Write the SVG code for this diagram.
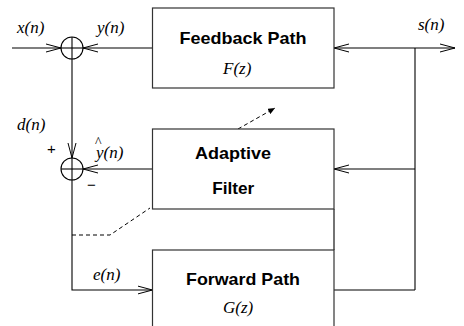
<svg xmlns="http://www.w3.org/2000/svg" width="464" height="326" viewBox="0 0 464 326">
  <style>
    .box { fill: #fff; stroke: #333; stroke-width: 1.2; }
    .ln { fill: none; stroke: #000; stroke-width: 1.1; }
    .dash { fill: none; stroke: #000; stroke-width: 1; stroke-dasharray: 4 3; }
    .title { font-family: "Liberation Sans", Arial, sans-serif; font-weight: bold; font-size: 16.5px; fill: #000; }
    .math { font-family: "Liberation Serif", "Times New Roman", serif; font-style: italic; font-size: 17px; fill: #000; }
    .sign { font-family: "Liberation Sans", Arial, sans-serif; font-size: 15px; fill: #000; }
  </style>
  <defs>
    <marker id="open" markerUnits="userSpaceOnUse" markerWidth="16" markerHeight="10" viewBox="0 0 16 10" refX="15" refY="5" orient="auto">
      <path d="M0,1 L15,5 L0,9" fill="none" stroke="#000" stroke-width="1"/>
    </marker>
    <marker id="dart" markerUnits="userSpaceOnUse" markerWidth="8" markerHeight="6" viewBox="0 0 8 6" refX="7" refY="3" orient="auto">
      <path d="M0,0 L7,3 L0,6 Z" fill="#000"/>
    </marker>
  </defs>

  <!-- signal connectors -->
  <g id="connectors">
    <line class="ln" x1="12" y1="48" x2="61" y2="48" marker-end="url(#open)"/>
    <line class="ln" x1="152.5" y1="48" x2="83" y2="48" marker-end="url(#open)"/>
    <line class="ln" x1="415" y1="48" x2="334" y2="48" marker-end="url(#open)"/>
    <line class="ln" x1="415" y1="48" x2="455" y2="48" marker-end="url(#open)"/>
    <line class="ln" x1="415" y1="48" x2="415" y2="290"/>
    <line class="ln" x1="415" y1="169" x2="334" y2="169" marker-end="url(#open)"/>
    <line class="ln" x1="152.5" y1="169" x2="83" y2="169" marker-end="url(#open)"/>
    <line class="ln" x1="72" y1="59" x2="72" y2="158" marker-end="url(#open)"/>
    <polyline class="ln" points="72,180 72,290 152.5,290" marker-end="url(#open)"/>
    <line class="ln" x1="334" y1="290" x2="415" y2="290"/>
    <line class="ln" x1="334" y1="209" x2="334" y2="250"/>
    <polyline class="dash" points="72,235 110,235 150,208"/>
    <line class="dash" x1="238" y1="129" x2="275" y2="108" marker-end="url(#dart)"/>
  </g>

  <!-- summing junctions -->
  <g id="sum1">
    <circle cx="72" cy="48" r="11" fill="none" stroke="#000" stroke-width="1.1"/>
    <line class="ln" x1="61" y1="48" x2="83" y2="48"/>
    <line class="ln" x1="72" y1="37" x2="72" y2="59"/>
  </g>
  <g id="sum2">
    <circle cx="72" cy="169" r="11" fill="none" stroke="#000" stroke-width="1.1"/>
    <line class="ln" x1="61" y1="169" x2="83" y2="169"/>
    <line class="ln" x1="72" y1="158" x2="72" y2="180"/>
    <text class="sign" x="47" y="154">+</text>
    <text class="sign" x="87" y="190">−</text>
  </g>

  <g id="feedback">
    <rect class="box" x="152.5" y="8" width="181.5" height="80"/>
    <text class="title" x="179.5" y="43.5" textLength="127" lengthAdjust="spacingAndGlyphs">Feedback Path</text>
    <text class="math" x="223" y="74">F(z)</text>
  </g>
  <g id="adaptive">
    <rect class="box" x="152.5" y="129" width="181.5" height="80"/>
    <text class="title" x="195" y="159" textLength="76" lengthAdjust="spacingAndGlyphs">Adaptive</text>
    <text class="title" x="212.3" y="193.5" textLength="42" lengthAdjust="spacingAndGlyphs">Filter</text>
  </g>
  <g id="forward">
    <rect class="box" x="152.5" y="250" width="181.5" height="90"/>
    <text class="title" x="186" y="284.5" textLength="114" lengthAdjust="spacingAndGlyphs">Forward Path</text>
    <text class="math" x="223" y="313">G(z)</text>
  </g>

  <!-- signal labels -->
  <g id="labels">
    <text class="math" x="17" y="33">x(n)</text>
    <text class="math" x="97" y="33">y(n)</text>
    <text class="math" x="418" y="30">s(n)</text>
    <text class="math" x="17" y="130">d(n)</text>
    <!-- estimate y-hat: caret raised above the y -->
    <text class="math" x="96" y="158">y(n)<tspan x="95" y="146.5" font-style="normal" font-size="14">^</tspan></text>
    <text class="math" x="93" y="280">e(n)</text>
  </g>
</svg>
